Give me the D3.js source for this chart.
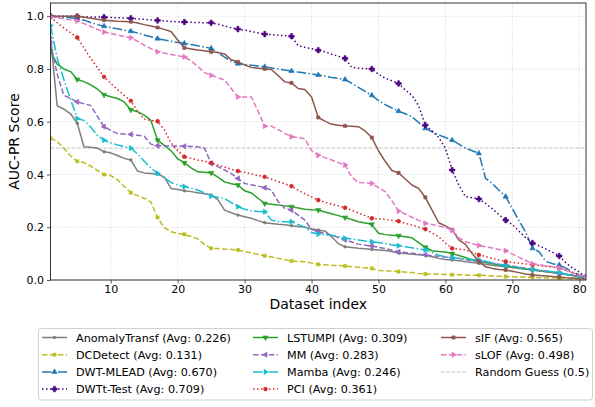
<!DOCTYPE html>
<html>
<head>
<meta charset="utf-8">
<script src="https://cdn.jsdelivr.net/npm/d3@7"></script>
<style>
  body { margin: 0; background: #fff; }
  svg { display: block; font-family: "DejaVu Sans", sans-serif; }
</style>
</head>
<body>
<svg id="chart" width="595" height="407"></svg>
<script>
// Tick values
const xTicks = [10, 20, 30, 40, 50, 60, 70, 80];
const yTicks = [0.0, 0.2, 0.4, 0.6, 0.8, 1.0];

// AUC-PR per dataset (sorted descending), datasets 1..81
const anomalyTransf = [0.92,0.66,0.648,0.63,0.594,0.505,0.503,0.5,0.486,0.482,0.472,0.461,0.455,0.413,0.406,0.404,0.402,0.39,0.347,0.343,0.338,0.335,0.331,0.327,0.322,0.305,0.265,0.255,0.246,0.24,0.234,0.225,0.217,0.214,0.211,0.209,0.206,0.203,0.2,0.194,0.189,0.186,0.164,0.138,0.126,0.123,0.12,0.118,0.116,0.114,0.112,0.108,0.102,0.1,0.098,0.096,0.094,0.088,0.082,0.078,0.076,0.073,0.069,0.066,0.063,0.06,0.056,0.053,0.05,0.047,0.044,0.041,0.038,0.035,0.033,0.03,0.028,0.023,0.018,0.013,0.008];
const dcDetect = [0.537,0.525,0.5,0.47,0.45,0.445,0.432,0.415,0.4,0.396,0.38,0.355,0.331,0.32,0.31,0.295,0.237,0.198,0.183,0.177,0.173,0.165,0.156,0.135,0.12,0.119,0.117,0.116,0.114,0.108,0.103,0.097,0.092,0.087,0.082,0.077,0.072,0.07,0.069,0.064,0.059,0.058,0.056,0.055,0.053,0.05,0.048,0.046,0.044,0.036,0.035,0.033,0.032,0.03,0.028,0.025,0.023,0.023,0.022,0.021,0.02,0.02,0.019,0.018,0.018,0.017,0.015,0.014,0.013,0.012,0.011,0.011,0.01,0.009,0.008,0.008,0.007,0.006,0.005,0.004,0.003];
const dwtMlead = [1.0,0.998,0.996,0.994,0.991,0.985,0.976,0.968,0.962,0.957,0.952,0.947,0.943,0.936,0.929,0.922,0.915,0.91,0.905,0.9,0.897,0.893,0.888,0.883,0.878,0.862,0.845,0.83,0.82,0.817,0.814,0.811,0.808,0.804,0.8,0.796,0.792,0.788,0.785,0.781,0.777,0.773,0.768,0.764,0.76,0.745,0.73,0.715,0.7,0.68,0.665,0.652,0.64,0.63,0.619,0.597,0.575,0.562,0.55,0.54,0.53,0.515,0.5,0.49,0.48,0.385,0.366,0.34,0.316,0.27,0.225,0.18,0.12,0.107,0.07,0.062,0.057,0.045,0.03,0.02,0.01];
const dwtTTest = [1.0,1.0,1.0,1.0,0.999,0.998,0.997,0.997,0.996,0.995,0.994,0.993,0.992,0.99,0.988,0.986,0.984,0.982,0.98,0.979,0.978,0.977,0.976,0.975,0.975,0.97,0.963,0.956,0.951,0.947,0.942,0.937,0.932,0.93,0.928,0.926,0.924,0.888,0.882,0.877,0.871,0.865,0.856,0.848,0.84,0.806,0.803,0.801,0.8,0.78,0.765,0.755,0.745,0.72,0.7,0.66,0.587,0.565,0.54,0.5,0.417,0.36,0.316,0.312,0.307,0.29,0.27,0.248,0.227,0.21,0.185,0.16,0.14,0.13,0.118,0.105,0.091,0.065,0.045,0.03,0.01];
const lstumpi = [0.868,0.818,0.8,0.79,0.76,0.752,0.74,0.724,0.702,0.695,0.688,0.675,0.645,0.638,0.625,0.605,0.53,0.51,0.49,0.46,0.444,0.425,0.41,0.408,0.406,0.39,0.372,0.365,0.36,0.338,0.33,0.31,0.29,0.287,0.284,0.281,0.278,0.273,0.268,0.266,0.265,0.258,0.251,0.244,0.237,0.229,0.221,0.216,0.211,0.177,0.172,0.17,0.168,0.164,0.16,0.142,0.124,0.111,0.108,0.106,0.1,0.093,0.085,0.076,0.07,0.066,0.062,0.057,0.053,0.049,0.045,0.042,0.038,0.035,0.031,0.028,0.025,0.021,0.017,0.012,0.008];
const mm = [0.9,0.78,0.7,0.688,0.675,0.668,0.662,0.62,0.581,0.567,0.555,0.553,0.552,0.549,0.545,0.515,0.509,0.509,0.508,0.508,0.507,0.506,0.505,0.5,0.442,0.43,0.417,0.404,0.385,0.366,0.361,0.356,0.35,0.341,0.297,0.272,0.265,0.246,0.227,0.192,0.183,0.176,0.17,0.161,0.152,0.144,0.136,0.132,0.129,0.124,0.119,0.113,0.107,0.104,0.101,0.098,0.095,0.092,0.09,0.087,0.085,0.081,0.077,0.073,0.07,0.067,0.064,0.06,0.057,0.053,0.049,0.044,0.04,0.036,0.032,0.028,0.025,0.021,0.017,0.013,0.01];
const mamba = [0.965,0.84,0.76,0.685,0.612,0.605,0.58,0.548,0.53,0.52,0.512,0.506,0.5,0.478,0.45,0.425,0.404,0.387,0.37,0.36,0.354,0.348,0.341,0.33,0.318,0.313,0.309,0.293,0.278,0.268,0.262,0.26,0.259,0.227,0.222,0.221,0.221,0.21,0.2,0.18,0.174,0.172,0.17,0.164,0.158,0.155,0.152,0.148,0.145,0.142,0.138,0.134,0.13,0.126,0.122,0.118,0.114,0.104,0.094,0.088,0.084,0.082,0.08,0.078,0.076,0.071,0.065,0.059,0.055,0.051,0.047,0.043,0.04,0.037,0.034,0.031,0.028,0.022,0.017,0.012,0.008];
const pci = [0.997,0.975,0.955,0.937,0.919,0.88,0.84,0.805,0.77,0.745,0.722,0.7,0.679,0.64,0.61,0.605,0.602,0.57,0.52,0.49,0.467,0.461,0.455,0.45,0.444,0.436,0.428,0.42,0.413,0.408,0.402,0.396,0.391,0.382,0.373,0.365,0.356,0.34,0.327,0.315,0.303,0.295,0.288,0.281,0.274,0.264,0.254,0.244,0.234,0.232,0.23,0.226,0.223,0.215,0.208,0.2,0.193,0.178,0.164,0.14,0.12,0.117,0.114,0.105,0.095,0.089,0.082,0.076,0.07,0.067,0.064,0.061,0.058,0.055,0.052,0.049,0.046,0.038,0.028,0.018,0.01];
const sIF = [1.0,1.0,1.0,1.0,1.0,0.996,0.992,0.988,0.985,0.983,0.981,0.98,0.979,0.974,0.968,0.963,0.957,0.95,0.942,0.91,0.88,0.876,0.872,0.869,0.865,0.862,0.857,0.835,0.827,0.815,0.806,0.803,0.8,0.798,0.775,0.751,0.747,0.726,0.722,0.694,0.616,0.602,0.59,0.587,0.584,0.583,0.581,0.565,0.54,0.49,0.45,0.415,0.406,0.383,0.36,0.347,0.313,0.265,0.217,0.205,0.19,0.152,0.135,0.1,0.07,0.05,0.044,0.04,0.038,0.033,0.028,0.023,0.019,0.017,0.015,0.013,0.011,0.009,0.008,0.006,0.005];
const sLOF = [0.997,0.994,0.99,0.986,0.982,0.972,0.961,0.95,0.94,0.935,0.929,0.923,0.918,0.905,0.89,0.877,0.865,0.86,0.855,0.85,0.846,0.83,0.81,0.786,0.776,0.767,0.758,0.726,0.694,0.694,0.694,0.64,0.583,0.583,0.57,0.556,0.543,0.54,0.535,0.49,0.473,0.464,0.455,0.445,0.436,0.39,0.37,0.368,0.366,0.35,0.335,0.3,0.261,0.25,0.238,0.226,0.215,0.21,0.205,0.2,0.188,0.16,0.145,0.138,0.131,0.126,0.121,0.116,0.111,0.098,0.086,0.074,0.062,0.058,0.054,0.05,0.046,0.036,0.026,0.019,0.01];
const randomGuess = 0.5;

const methodNames = ["AnomalyTransf","DCDetect","DWT-MLEAD","DWTt-Test","LSTUMPI","MM","Mamba","PCI","sIF","sLOF"];
const methodAvgs = ["0.226","0.131","0.670","0.709","0.309","0.283","0.246","0.361","0.565","0.498"];
const methodValues = [anomalyTransf, dcDetect, dwtMlead, dwtTTest, lstumpi, mm, mamba, pci, sIF, sLOF];

// Styling per method
const colors = ["#7f7f7f","#bcbd22","#1f77b4","#4b0082","#2ca02c","#9467bd","#17becf","#d62728","#8c564b","#e377c2"];
const dashes = {solid: null, dashed: "5.5,2.4", dashdot: "9.6,2.4,1.5,2.4", dotted: "1.5,2.5"};
const lineStyles = ["solid","dashed","dashdot","dotted","solid","dashed","dashdot","dotted","solid","dashed"];
const markers = ["point","square","tri-up","plus","tri-down","tri-left","tri-right","circle","square","tri-right"];

const series = methodNames.map((name, k) => ({
  name,
  label: `${name} (Avg: ${methodAvgs[k]})`,
  values: methodValues[k].map((v, i) => ({ idx: i + 1, v })),
  color: colors[k],
  dash: dashes[lineStyles[k]],
  marker: markers[k]
}));

const svg = d3.select("#chart");
const plot = { left: 50.5, right: 586, top: 3, bottom: 280 };

const x = d3.scaleLinear().domain([1, 81]).range([plot.left, plot.right]);
const y = d3.scaleLinear().domain([0, 1.05]).range([plot.bottom, plot.top]);

// Clip region for the plot area
svg.append("defs").append("clipPath").attr("id", "plotClip")
  .append("rect")
  .attr("x", plot.left).attr("y", plot.top)
  .attr("width", plot.right - plot.left).attr("height", plot.bottom - plot.top);

// Grid
const grid = svg.append("g").attr("class", "grid");
grid.selectAll("line.gx").data(xTicks).join("line")
  .attr("x1", d => x(d)).attr("x2", d => x(d))
  .attr("y1", plot.top).attr("y2", plot.bottom)
  .attr("stroke", "#d9d9d9").attr("stroke-width", 0.8).attr("stroke-dasharray", "1.6,1.6");
grid.selectAll("line.gy").data(yTicks).join("line")
  .attr("x1", plot.left).attr("x2", plot.right)
  .attr("y1", d => y(d)).attr("y2", d => y(d))
  .attr("stroke", "#d9d9d9").attr("stroke-width", 0.8).attr("stroke-dasharray", "1.6,1.6");

// Marker shapes
function markerPath(type) {
  switch (type) {
    case "point": return d3.symbol(d3.symbolCircle, 6)();
    case "circle": return d3.symbol(d3.symbolCircle, 12)();
    case "square": return d3.symbol(d3.symbolSquare, 10)();
    case "plus": return d3.symbol(d3.symbolCross, 17)();
    default: return d3.symbol(d3.symbolTriangle, 12)();
  }
}
function markerRotation(type) {
  return { "tri-down": 180, "tri-left": -90, "tri-right": 90 }[type] || 0;
}

const plotArea = svg.append("g").attr("clip-path", "url(#plotClip)");

// Random guess reference
plotArea.append("line")
  .attr("x1", plot.left).attr("x2", plot.right)
  .attr("y1", y(randomGuess)).attr("y2", y(randomGuess))
  .attr("stroke", "#c0c0c0").attr("stroke-width", 1).attr("stroke-dasharray", "3.7,1.6");

const line = d3.line().x(d => x(d.idx)).y(d => y(d.v));

series.forEach(s => {
  const g = plotArea.append("g");
  g.append("path")
    .datum(s.values)
    .attr("d", line)
    .attr("fill", "none")
    .attr("stroke", s.color)
    .attr("stroke-width", 1.5)
    .attr("stroke-linejoin", "round")
    .attr("stroke-dasharray", s.dash);
  // a marker on every fourth point
  g.selectAll("path.m").data(s.values.filter((d, i) => i % 4 === 0)).join("path")
    .attr("d", markerPath(s.marker))
    .attr("transform", d => `translate(${x(d.idx)},${y(d.v)}) rotate(${markerRotation(s.marker)})`)
    .attr("fill", s.color)
    .attr("stroke", s.color)
    .attr("stroke-width", 0.6);
});

// Frame
svg.append("rect")
  .attr("x", plot.left).attr("y", plot.top)
  .attr("width", plot.right - plot.left).attr("height", plot.bottom - plot.top)
  .attr("fill", "none").attr("stroke", "#333").attr("stroke-width", 1);

// Axes
const xAxis = svg.append("g")
  .attr("transform", `translate(0,${plot.bottom})`)
  .call(d3.axisBottom(x).tickValues(xTicks).tickSize(3.5).tickPadding(2).tickFormat(d3.format("d")));
const yAxis = svg.append("g")
  .attr("transform", `translate(${plot.left},0)`)
  .call(d3.axisLeft(y).tickValues(yTicks).tickSize(3.5).tickPadding(3).tickFormat(d3.format(".1f")));
[xAxis, yAxis].forEach(a => {
  a.select(".domain").remove();
  a.selectAll(".tick line").attr("stroke", "#333").attr("stroke-width", 0.8);
  a.selectAll(".tick text").attr("fill", "#000").style("font-size", "11px").style("font-family", "DejaVu Sans, sans-serif");
});

// Axis titles
svg.append("text")
  .attr("x", (plot.left + plot.right) / 2).attr("y", 309)
  .attr("text-anchor", "middle").style("font-size", "14px")
  .text("Dataset index");
svg.append("text")
  .attr("transform", `translate(19,${(plot.top + plot.bottom) / 2}) rotate(-90)`)
  .attr("text-anchor", "middle").style("font-size", "14px")
  .text("AUC-PR Score");

// Legend
const legendEntries = series.map(s => ({ label: s.label, color: s.color, dash: s.dash, marker: s.marker, width: 1.5 }))
  .concat([{ label: "Random Guess (0.5)", color: "#c0c0c0", dash: "3.7,1.6", marker: null, width: 1 }]);

const legend = svg.append("g");
legend.append("rect")
  .attr("x", 38.5).attr("y", 328.5).attr("width", 554).attr("height", 71.5)
  .attr("rx", 3).attr("fill", "#fff").attr("stroke", "#d0d0d0").attr("stroke-width", 1);

const colTextX = [76, 287, 475];
const rowY = [337.5, 354.7, 371.9, 389.1];
legendEntries.forEach((e, k) => {
  const col = Math.floor(k / 4), row = k % 4;
  const tx = colTextX[col], cy = rowY[row];
  const x1 = tx - 34, x2 = tx - 9;
  legend.append("line")
    .attr("x1", x1).attr("x2", x2).attr("y1", cy).attr("y2", cy)
    .attr("stroke", e.color).attr("stroke-width", e.width)
    .attr("stroke-dasharray", e.dash);
  if (e.marker) {
    legend.append("path")
      .attr("d", markerPath(e.marker))
      .attr("transform", `translate(${(x1 + x2) / 2},${cy}) rotate(${markerRotation(e.marker)})`)
      .attr("fill", e.color).attr("stroke", e.color).attr("stroke-width", 0.6);
  }
  legend.append("text")
    .attr("x", tx).attr("y", cy + 4)
    .style("font-size", "11.2px")
    .text(e.label);
});
</script>
</body>
</html>
